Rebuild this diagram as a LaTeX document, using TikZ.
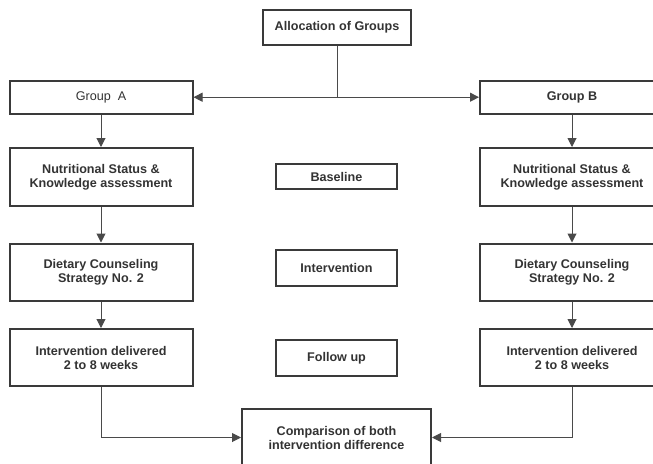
\documentclass[tikz,border=0pt]{standalone}
\usepackage{fontspec}
\setmainfont{Liberation Sans}
\usetikzlibrary{arrows.meta}
\definecolor{boxline}{HTML}{3A3A3A}
\definecolor{txt}{HTML}{333333}
\definecolor{conline}{HTML}{4A4A4A}
\begin{document}
\begin{tikzpicture}[x=1pt,y=-1pt,
  box/.style={draw=boxline,line width=2pt,fill=white,inner sep=0pt,align=center,
    text=txt,font=\fontsize{12.6}{14}\selectfont\bfseries},
  sidebox/.style={box,minimum width=183pt,minimum height=57pt},
  midbox/.style={box,minimum width=121pt},
  conn/.style={draw=conline,line width=1pt},
  arr/.style={conn,-{Triangle[length=9pt,width=9pt]}}]
\useasboundingbox (0,0) rectangle (653,463);
% top
\node[box,minimum width=148pt,minimum height=35pt] (alloc) at (337,27.5) {Allocation of Groups};
\node[sidebox,minimum height=33pt,font=\fontsize{12.6}{14}\selectfont] (grpA) at (101,97.5) {Group\ \ A};
\node[sidebox,minimum width=184pt,minimum height=33pt] (grpB) at (572,97) {Group B};
% left column
\node[sidebox,minimum height=58pt] (nutA) at (101,177) {Nutritional Status \&\\Knowledge assessment};
\node[sidebox] (dietA) at (101,272) {Dietary Counseling\\Strategy No. 2};
\node[sidebox] (intdA) at (101,357.5) {Intervention delivered\\2 to 8 weeks};
% right column
\node[sidebox,minimum width=184pt,minimum height=58pt] (nutB) at (572,177) {Nutritional Status \&\\Knowledge assessment};
\node[sidebox,minimum width=184pt] (dietB) at (572,272) {Dietary Counseling\\Strategy No. 2};
\node[sidebox,minimum width=184pt] (intdB) at (572,357.5) {Intervention delivered\\2 to 8 weeks};
% middle
\node[midbox,minimum height=25pt] (base) at (336.5,176.5) {Baseline};
\node[midbox,minimum height=36pt] (interv) at (336.5,268) {Intervention};
\node[midbox,minimum height=36pt] (follow) at (336.5,358) {Follow up};
\node[box,minimum width=189pt,minimum height=57pt] (comp) at (336.5,437.5) {Comparison of both\\intervention difference};
% connectors
\coordinate (split) at (alloc.south |- 0,97.2);
\draw[conn] (alloc.south) -- (split);
\draw[arr] (split) -- (grpA.east |- split);
\draw[arr] (split) -- (grpB.west |- split);
\draw[arr] (grpA.south) -- (nutA.north);
\draw[arr] (nutA.south) -- (dietA.north);
\draw[arr] (dietA.south) -- (intdA.north);
\draw[arr] (grpB.south) -- (nutB.north);
\draw[arr] (nutB.south) -- (dietB.north);
\draw[arr] (dietB.south) -- (intdB.north);
\draw[arr] (intdA.south) |- (comp.west);
\draw[arr] (intdB.south) |- (comp.east);
\end{tikzpicture}
\end{document}
